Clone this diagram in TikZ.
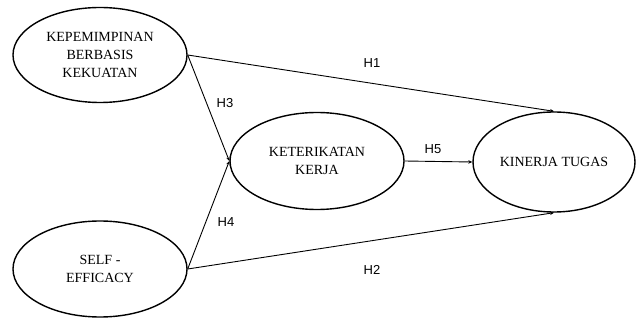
\documentclass[tikz,border=0pt]{standalone}
\usepackage{fontspec}
\setmainfont{Liberation Serif}
\newfontfamily\labfont{Liberation Sans}
\usetikzlibrary{shapes.geometric,arrows.meta}
\begin{document}
\begin{tikzpicture}[x=1pt,y=-1pt,
  var/.style={ellipse,draw,line width=1.4pt,inner sep=0pt,align=center,
    font=\fontsize{14}{18}\selectfont},
  path/.style={line width=0.9pt,-{Stealth[length=4pt,width=3.5pt]}},
  hyp/.style={font=\labfont\fontsize{13}{15}\selectfont}]
\useasboundingbox (0,0) rectangle (636,320);
\node[var,minimum width=174pt,minimum height=95pt] (kbk) at (100,55) {KEPEMIMPINAN\\BERBASIS\\KEKUATAN};
\node[var,minimum width=174pt,minimum height=96pt] (se) at (100,269) {SELF -\\EFFICACY};
\node[var,minimum width=174pt,minimum height=97pt] (kk) at (317,161) {KETERIKATAN\\KERJA};
\node[var,minimum width=162pt,minimum height=100pt] (kt) at (554,162) {KINERJA TUGAS};
\draw[path] (kbk.east) -- (kt.north);
\draw[path] (kbk.east) -- (kk.west);
\draw[path] (se.east) -- (kk.west);
\draw[path] (se.east) -- (kt.south);
\draw[path] (kk.east) -- (kt.west);
\node[hyp] (h1) at (372,63) {H1};
\node[hyp] (h2) at (372,270) {H2};
\node[hyp] (h3) at (225,103) {H3};
\node[hyp] (h4) at (226,222) {H4};
\node[hyp] (h5) at (433,149) {H5};
\end{tikzpicture}
\end{document}
